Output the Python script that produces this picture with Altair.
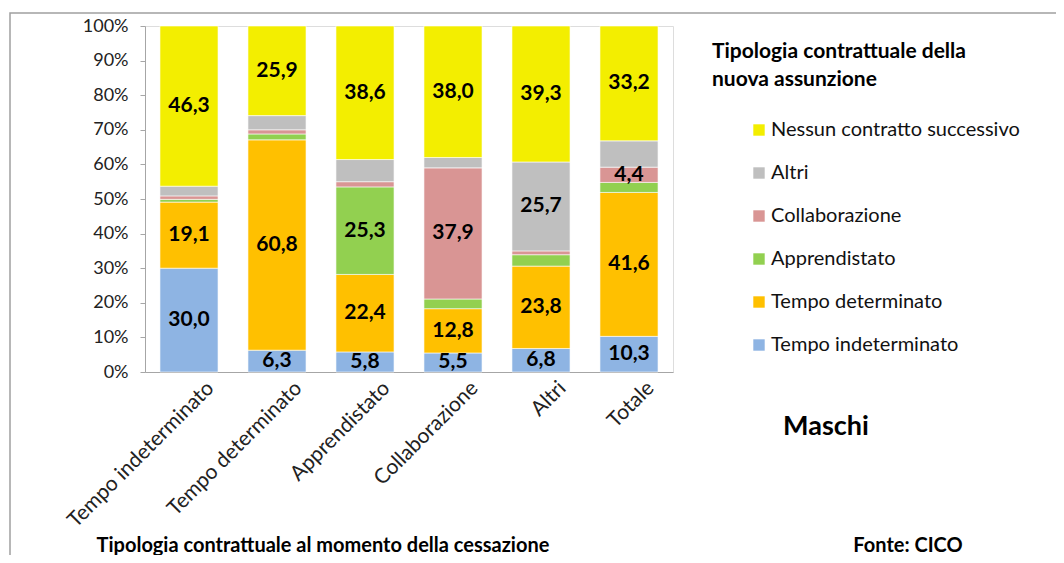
import altair as alt
import pandas as pd

categories = ["Tempo indeterminato", "Tempo determinato", "Apprendistato",
              "Collaborazione", "Altri", "Totale"]
series = ["Tempo indeterminato", "Tempo determinato", "Apprendistato",
          "Collaborazione", "Altri", "Nessun contratto successivo"]
colors = ["#8EB4E3", "#FFC000", "#92D050", "#D99594", "#BFBFBF", "#F3EE00"]

# values per series (in order of categories)
tempo_indet = [30.0, 6.3, 5.8, 5.5, 6.8, 10.3]
tempo_det = [19.1, 60.8, 22.4, 12.8, 23.8, 41.6]
apprendistato = [0.8, 1.7, 25.3, 2.8, 3.3, 2.9]
collaborazione = [1.0, 1.2, 1.5, 37.9, 1.1, 4.4]
altri = [2.8, 4.1, 6.4, 3.0, 25.7, 7.6]
nessuno = [46.3, 25.9, 38.6, 38.0, 39.3, 33.2]

# which segments carry a value label
show_indet = [1, 1, 1, 1, 1, 1]
show_det = [1, 1, 1, 1, 1, 1]
show_appr = [0, 0, 1, 0, 0, 0]
show_coll = [0, 0, 0, 1, 0, 1]
show_altri = [0, 0, 0, 0, 1, 0]
show_ness = [1, 1, 1, 1, 1, 1]

all_vals = [tempo_indet, tempo_det, apprendistato, collaborazione, altri, nessuno]
all_show = [show_indet, show_det, show_appr, show_coll, show_altri, show_ness]

rows = []
for si, (s, vals, shows) in enumerate(zip(series, all_vals, all_show)):
    for c, v, sh in zip(categories, vals, shows):
        rows.append({"cat": c, "serie": s, "value": v, "order": si, "show": sh})
df = pd.DataFrame(rows)

FONT = "Lato"
W, H = 528, 346
y_ticks = list(range(0, 101, 10))

x_axis = alt.Axis(labelAngle=-45, labelAlign="right", labelBaseline="top",
                  labelFontSize=21, labelColor="#222222", labelFont=FONT,
                  ticks=False, domainColor="#A6A6A6", labelPadding=5,
                  labelOffset=14, labelLimit=400, labelOverlap=False)
y_axis = alt.Axis(values=y_ticks, labelExpr="datum.value + '%'", grid=False,
                  labelFontSize=18, labelColor="#222222", labelFont=FONT,
                  tickSize=5, tickColor="#A6A6A6", domainColor="#A6A6A6",
                  labelPadding=12, labelOverlap=False)
x_scale = alt.Scale(paddingInner=0.34, paddingOuter=0.17)
y_scale = alt.Scale(domain=[0, 100], nice=False)

base = alt.Chart(df)

bars = base.mark_bar(stroke="white", strokeWidth=0.6).encode(
    x=alt.X("cat:N", sort=categories, title=None, scale=x_scale, axis=x_axis),
    y=alt.Y("value:Q", stack="zero", title=None, scale=y_scale, axis=y_axis),
    color=alt.Color("serie:N", sort=series,
                    scale=alt.Scale(domain=series, range=colors),
                    legend=alt.Legend(title=None, orient="none",
                                      legendX=604, legendY=94,
                                      direction="vertical",
                                      symbolType="square", symbolSize=130,
                                      symbolStrokeWidth=0,
                                      labelFontSize=20, labelFont=FONT,
                                      labelColor="#111111", rowPadding=23,
                                      labelOffset=2, padding=0, labelLimit=500,
                                      values=list(reversed(series)))),
    order=alt.Order("order:Q", sort="ascending"),
)

labels = base.transform_stack(
    stack="value", groupby=["cat"], as_=["v0", "v1"],
    sort=[alt.SortField("order", order="ascending")]
).transform_calculate(
    mid="(datum.v0 + datum.v1) / 2",
    txt="replace(format(datum.value, '.1f'), '.', ',')"
).transform_filter("datum.show == 1").mark_text(
    fontSize=21, fontWeight="bold", font=FONT, color="#000000"
).encode(
    x=alt.X("cat:N", sort=categories, title=None, scale=x_scale, axis=x_axis),
    y=alt.Y("mid:Q", title=None, scale=y_scale, axis=y_axis),
    text="txt:N",
)

ann = pd.DataFrame({"k": [0]})
annc = alt.Chart(ann)

legend_title1 = annc.mark_text(text="Tipologia contrattuale della", align="left",
                               baseline="middle", fontSize=21, fontWeight="bold",
                               font=FONT, color="#000000").encode(
    x=alt.value(567), y=alt.value(26))
legend_title2 = annc.mark_text(text="nuova assunzione", align="left",
                               baseline="middle", fontSize=21, fontWeight="bold",
                               font=FONT, color="#000000").encode(
    x=alt.value(567), y=alt.value(54))
maschi = annc.mark_text(text="Maschi", align="center", baseline="middle",
                        fontSize=27, fontWeight="bold", font=FONT,
                        color="#000000").encode(x=alt.value(681), y=alt.value(401))
fonte = annc.mark_text(text="Fonte: CICO", align="center", baseline="middle",
                       fontSize=20, fontWeight="bold", font=FONT,
                       color="#000000").encode(x=alt.value(763), y=alt.value(520))
xtitle = annc.mark_text(text="Tipologia contrattuale al momento della cessazione",
                        align="center", baseline="middle", fontSize=20,
                        fontWeight="bold", font=FONT,
                        color="#000000").encode(x=alt.value(178), y=alt.value(520))
frame = annc.mark_rect(fill=None, stroke="#A0A0A0", strokeWidth=1.5).encode(
    x=alt.value(-135), x2=alt.value(1000), y=alt.value(-13), y2=alt.value(600))

chart = alt.layer(frame, bars, labels, legend_title1, legend_title2, maschi,
                  fonte, xtitle).properties(
    width=W, height=H,
    padding={"left": 137, "top": 18, "right": 1048 - 137 - W,
             "bottom": 547 - 18 - H},
    autosize=alt.AutoSizeParams(type="none"),
).configure_view(stroke=None).configure(background="white")

chart.save("out.html", embed_options={"renderer": "svg", "actions": False})
